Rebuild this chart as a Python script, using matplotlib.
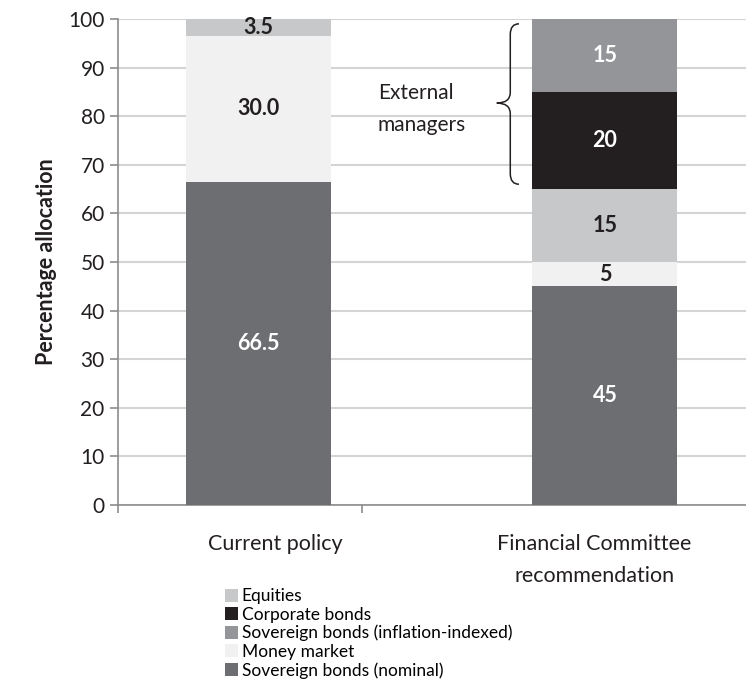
import matplotlib
matplotlib.use("Agg")
import matplotlib.pyplot as plt
from matplotlib.path import Path
from matplotlib.patches import PathPatch, Patch

plt.rcParams['font.family'] = ['Lato', 'DejaVu Sans']

categories = ["Current policy", "Financial Committee\nrecommendation"]

# segments from bottom to top, per bar
current_names = ["Sovereign bonds (nominal)", "Money market", "Equities"]
current_values = [66.5, 30.0, 3.5]
current_labels = ["66.5", "30.0", "3.5"]

fc_names = ["Sovereign bonds (nominal)", "Money market", "Equities",
            "Corporate bonds", "Sovereign bonds (inflation-indexed)"]
fc_values = [45, 5, 15, 20, 15]
fc_labels = ["45", "5", "15", "20", "15"]

legend_order = ["Equities", "Corporate bonds", "Sovereign bonds (inflation-indexed)",
                "Money market", "Sovereign bonds (nominal)"]

colors = {
    "Equities": "#c6c8ca",
    "Corporate bonds": "#231f20",
    "Sovereign bonds (inflation-indexed)": "#939598",
    "Money market": "#f1f1f2",
    "Sovereign bonds (nominal)": "#6d6e71",
}
text_colors = {
    "Equities": "#231f20",
    "Corporate bonds": "white",
    "Sovereign bonds (inflation-indexed)": "white",
    "Money market": "#231f20",
    "Sovereign bonds (nominal)": "white",
}

fig = plt.figure(figsize=(7.46, 6.85), dpi=100)
ax = fig.add_axes([0.158, 0.2628, 0.842, 0.7095])

width = 0.418
bars = [(0, current_names, current_values, current_labels),
        (1, fc_names, fc_values, fc_labels)]
for x, names, vals, labs in bars:
    bottom = 0
    for n, v, lab in zip(names, vals, labs):
        ax.bar(x, v, width, bottom=bottom, color=colors[n], zorder=3)
        ax.text(x, bottom + v / 2, lab, ha='center', va='center', fontsize=15.5,
                fontweight='bold', color=text_colors[n], zorder=4)
        bottom += v

ax.set_xlim(-0.405, 1.407)
ax.set_ylim(0, 100)
ax.set_yticks(range(0, 101, 10))
ax.yaxis.grid(True, color='#d4d4d4', linewidth=1.5, zorder=0)
ax.tick_params(axis='y', labelsize=15, colors='#8c8c8c', labelcolor='#231f20',
               length=6, width=1.2)
ax.set_xticks([-0.405, 0.30])
ax.set_xticklabels([])
ax.tick_params(axis='x', colors='#8c8c8c', length=6, width=1.2)
for s in ['top', 'right']:
    ax.spines[s].set_visible(False)
for s in ['left', 'bottom']:
    ax.spines[s].set_color('#8c8c8c')
    ax.spines[s].set_linewidth(1.2)

ax.set_ylabel("Percentage allocation", fontsize=15.5, fontweight='bold', color='#231f20', labelpad=8)

for x, lab in zip([0.05, 0.97], categories):
    ax.text(x, -6.0, lab, ha='center', va='top', fontsize=15.5, color='#231f20',
            linespacing=1.75, transform=ax.transData, clip_on=False)

# brace for external managers
xe, xs, xt = 0.752, 0.727, 0.688
top, bot = 99.0, 66.0
mid = 82.7
r = 2.2
verts = [(xe, top), (xs, top), (xs, top - r),
         (xs, mid + r), (xs, mid), (xt, mid),
         (xs, mid), (xs, mid - r),
         (xs, bot + r), (xs, bot), (xe, bot)]
codes = [Path.MOVETO, Path.CURVE3, Path.CURVE3,
         Path.LINETO, Path.CURVE3, Path.CURVE3,
         Path.CURVE3, Path.CURVE3,
         Path.LINETO, Path.CURVE3, Path.CURVE3]
ax.add_patch(PathPatch(Path(verts, codes), fill=False, edgecolor='#231f20',
                       linewidth=1.1, zorder=5, clip_on=False))
ax.text(0.345, 81.5, "External\nmanagers", ha='left', va='center', fontsize=15,
        color='#231f20', linespacing=1.75)

handles = [Patch(facecolor=colors[n], edgecolor='none') for n in legend_order]
fig.legend(handles, legend_order, loc='upper left', bbox_to_anchor=(0.302, 0.141),
           frameon=False, fontsize=12.5, handlelength=0.75, handleheight=0.75,
           handletextpad=0.2, labelspacing=0.13, borderpad=0, borderaxespad=0)

fig.savefig("out.png", dpi=100)
